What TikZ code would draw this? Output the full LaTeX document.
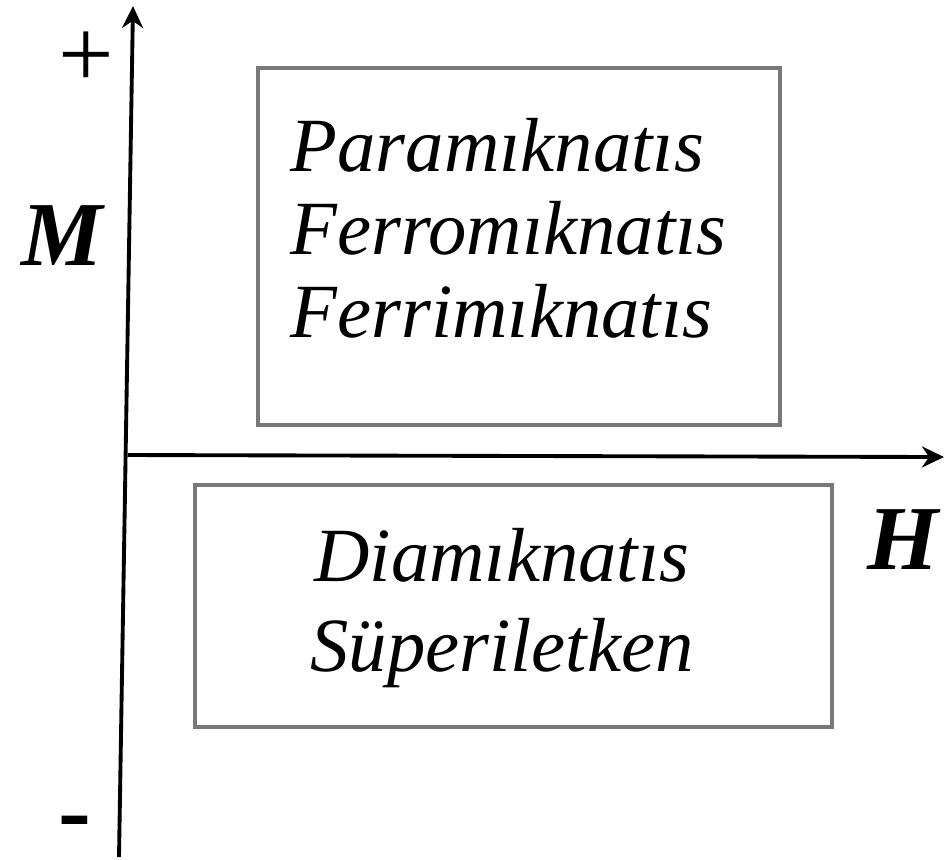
\documentclass[tikz,border=0pt]{standalone}
\usepackage{fontspec}
\setmainfont{Liberation Serif}
\usetikzlibrary{arrows.meta, positioning}
\definecolor{boxgray}{RGB}{120,120,120}

\begin{document}
\begin{tikzpicture}[x=0.01cm, y=-0.01cm,
  axis/.style={line width=1.1pt, -{Stealth[length=2.2mm, width=2.1mm]}},
  region/.style={draw=boxgray, line width=0.9pt, inner sep=0pt},
  kind/.style={font=\fontsize{21.8}{23.6}\selectfont\itshape, inner sep=0pt},
  axlbl/.style={font=\fontsize{26}{26}\selectfont\bfseries\itshape, inner sep=0pt}
]
  \useasboundingbox (0,0) rectangle (945,859);
  % regions
  \node[region, minimum width=522*0.01cm, minimum height=357*0.01cm] (upbox) at (519,246.5) {};
  \node[region, minimum width=637*0.01cm, minimum height=242*0.01cm] (lowbox) at (513.5,606) {};
  \node[kind, align=left, anchor=west] (uptext) at (290,228)
    {Paramıknatıs\\Ferromıknatıs\\Ferrimıknatıs};
  \node[kind, align=center] (lowtext) at (502,608)
    {Diamıknatıs\\[2pt]Süperiletken};
  % axes
  \coordinate (mlow) at (119,857);
  \coordinate (mtop) at (133,6);
  \coordinate (hleft) at (128,455);
  \coordinate (hright) at (944,457);
  \draw[axis] (mlow) -- (mtop);
  \draw[axis] (hleft) -- (hright);
  \node[axlbl] (mlbl) at (62,236) {M};
  \node[axlbl] (hlbl) at (903,540) {H};
  \node[font=\fontsize{28}{28}\selectfont, inner sep=0pt] (plus) at (86,60) {+};
  \node[font=\fontsize{28}{28}\selectfont\bfseries, inner sep=1pt] (minus) at (75,830) {-};
\end{tikzpicture}
\end{document}
